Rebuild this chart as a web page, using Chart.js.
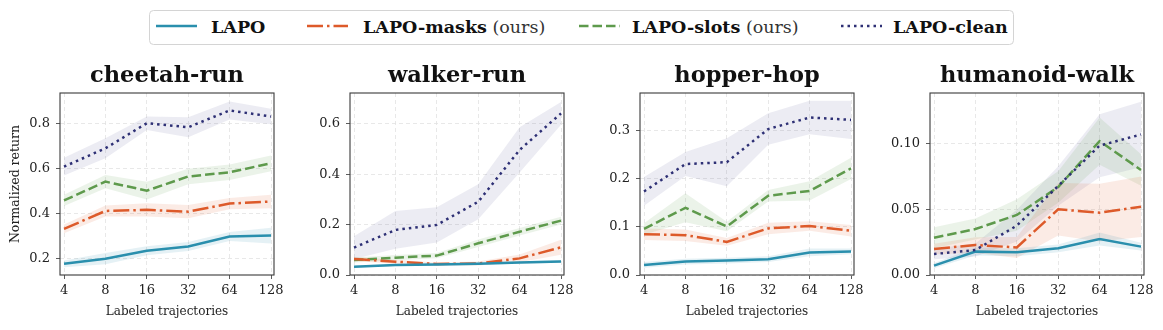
<!DOCTYPE html>
<html>
<head>
<meta charset="utf-8">
<script src="https://cdn.jsdelivr.net/npm/chart.js@4.4.1/dist/chart.umd.min.js"></script>
<style>
  body { margin: 0; background: #fff; }
  #wrap { position: relative; width: 1163px; height: 330px; overflow: hidden; }
  .panel { position: absolute; top: 50px; width: 290px; height: 280px; }
  #legend { position: absolute; left: 0; top: 0; }
</style>
</head>
<body>
<div id="wrap">
  <svg id="legend" width="1163" height="50"></svg>
  <div class="panel" style="left:0px"><canvas id="c0" width="290" height="280"></canvas></div>
  <div class="panel" style="left:290px"><canvas id="c1" width="290" height="280"></canvas></div>
  <div class="panel" style="left:580px"><canvas id="c2" width="290" height="280"></canvas></div>
  <div class="panel" style="left:870px"><canvas id="c3" width="290" height="280"></canvas></div>
</div>
<script>
// x categories (number of labeled trajectories)
const trajLabels = ['4', '8', '16', '32', '64', '128'];
const seriesNames = ['LAPO', 'LAPO-masks', 'LAPO-slots', 'LAPO-clean'];

// cheetah-run
const cheetahLapo = [0.175, 0.198, 0.233, 0.252, 0.297, 0.301];
const cheetahMasks = [0.331, 0.411, 0.416, 0.408, 0.444, 0.453];
const cheetahSlots = [0.458, 0.542, 0.502, 0.565, 0.584, 0.624];
const cheetahClean = [0.609, 0.691, 0.803, 0.785, 0.860, 0.833];
const cheetahLapoErr = [0.015, 0.025, 0.02, 0.02, 0.02, 0.035];
const cheetahMasksErr = [0.02, 0.025, 0.03, 0.03, 0.025, 0.03];
const cheetahSlotsErr = [0.025, 0.03, 0.04, 0.035, 0.035, 0.035];
const cheetahCleanErr = [0.04, 0.045, 0.03, 0.045, 0.04, 0.035];
const cheetahYTicks = [0.2, 0.4, 0.6, 0.8];

// walker-run
const walkerLapo = [0.033, 0.040, 0.042, 0.045, 0.050, 0.054];
const walkerMasks = [0.064, 0.053, 0.044, 0.046, 0.066, 0.110];
const walkerSlots = [0.060, 0.069, 0.077, 0.126, 0.172, 0.216];
const walkerClean = [0.109, 0.179, 0.199, 0.291, 0.497, 0.642];
const walkerLapoErr = [0.004, 0.004, 0.004, 0.005, 0.005, 0.005];
const walkerMasksErr = [0.008, 0.008, 0.006, 0.008, 0.015, 0.03];
const walkerSlotsErr = [0.01, 0.01, 0.01, 0.015, 0.015, 0.015];
const walkerCleanErr = [0.045, 0.075, 0.07, 0.07, 0.09, 0.045];
const walkerYTicks = [0.0, 0.2, 0.4, 0.6];

// hopper-hop
const hopperLapo = [0.021, 0.028, 0.030, 0.033, 0.047, 0.049];
const hopperMasks = [0.085, 0.083, 0.069, 0.097, 0.102, 0.092];
const hopperSlots = [0.096, 0.140, 0.101, 0.165, 0.175, 0.222];
const hopperClean = [0.174, 0.231, 0.235, 0.304, 0.328, 0.323];
const hopperLapoErr = [0.006, 0.006, 0.006, 0.006, 0.008, 0.006];
const hopperMasksErr = [0.012, 0.012, 0.008, 0.012, 0.01, 0.012];
const hopperSlotsErr = [0.012, 0.03, 0.01, 0.012, 0.02, 0.022];
const hopperCleanErr = [0.03, 0.025, 0.05, 0.033, 0.035, 0.04];
const hopperYTicks = [0.0, 0.1, 0.2, 0.3];

// humanoid-walk
const humanoidLapo = [0.0071, 0.0178, 0.0173, 0.0203, 0.0274, 0.0216];
const humanoidMasks = [0.0198, 0.0228, 0.0210, 0.0500, 0.0475, 0.0520];
const humanoidSlots = [0.0284, 0.0350, 0.0457, 0.0670, 0.1020, 0.0800];
const humanoidClean = [0.0160, 0.0190, 0.0376, 0.0678, 0.0985, 0.1070];
const humanoidLapoErr = [0.002, 0.003, 0.003, 0.003, 0.005, 0.003];
const humanoidMasksErr = [0.004, 0.006, 0.008, 0.02, 0.022, 0.023];
const humanoidSlotsErr = [0.008, 0.008, 0.012, 0.012, 0.018, 0.012];
const humanoidCleanErr = [0.004, 0.005, 0.012, 0.015, 0.024, 0.025];
const humanoidYTicks = [0.00, 0.05, 0.10];

const colors = ['#2a8fad', '#dd5a2a', '#5e9a4c', '#2e3075'];
const bandColors = ['rgba(42,143,173,0.12)', 'rgba(221,90,42,0.12)', 'rgba(94,154,76,0.12)', 'rgba(46,48,117,0.09)'];
const dashes = [[], [16, 4, 2.5, 4], [9.5, 4], [2.5, 4]];
const FONT = "'DejaVu Serif', serif";

const panels = [
    { title: 'cheetah-run', series: [cheetahLapo, cheetahMasks, cheetahSlots, cheetahClean],
      errs: [cheetahLapoErr, cheetahMasksErr, cheetahSlotsErr, cheetahCleanErr],
      yMin: 0.125, yMax: 0.938, yTicks: cheetahYTicks, digits: 1, yTitle: true },
    { title: 'walker-run', series: [walkerLapo, walkerMasks, walkerSlots, walkerClean],
      errs: [walkerLapoErr, walkerMasksErr, walkerSlotsErr, walkerCleanErr],
      yMin: 0, yMax: 0.723, yTicks: walkerYTicks, digits: 1, yTitle: false },
    { title: 'hopper-hop', series: [hopperLapo, hopperMasks, hopperSlots, hopperClean],
      errs: [hopperLapoErr, hopperMasksErr, hopperSlotsErr, hopperCleanErr],
      yMin: 0, yMax: 0.379, yTicks: hopperYTicks, digits: 1, yTitle: false },
    { title: 'humanoid-walk', series: [humanoidLapo, humanoidMasks, humanoidSlots, humanoidClean],
      errs: [humanoidLapoErr, humanoidMasksErr, humanoidSlotsErr, humanoidCleanErr],
      yMin: 0, yMax: 0.1386, yTicks: humanoidYTicks, digits: 2, yTitle: false }
];

// draws the box around the plot area
const framePlugin = {
    id: 'frame',
    afterDraw(chart) {
        const { ctx, chartArea: a } = chart;
        ctx.save();
        ctx.strokeStyle = '#3a3a3a';
        ctx.lineWidth = 1.1;
        ctx.strokeRect(a.left, a.top, a.right - a.left, a.bottom - a.top);
        ctx.restore();
    }
};

function toPoints(values) {
    return values.map((v, i) => ({ x: i, y: v }));
}

function buildDatasets(p) {
    const sets = [];
    p.series.forEach((vals, s) => {
        const err = p.errs[s];
        // band: lower edge then upper edge filled to it
        sets.push({
            data: toPoints(vals.map((v, i) => v - err[i])),
            borderWidth: 0, pointRadius: 0, fill: false, order: 2
        });
        sets.push({
            data: toPoints(vals.map((v, i) => v + err[i])),
            borderWidth: 0, pointRadius: 0, fill: '-1',
            backgroundColor: bandColors[s], order: 2
        });
    });
    p.series.forEach((vals, s) => {
        sets.push({
            label: seriesNames[s],
            data: toPoints(vals),
            borderColor: colors[s],
            borderWidth: 2.5,
            borderDash: dashes[s],
            borderCapStyle: 'butt',
            pointRadius: 0,
            tension: 0,
            fill: false,
            order: s === 3 ? 0 : 1
        });
    });
    return sets;
}

const gridOpts = {
    color: '#e2e2e2',
    lineWidth: 0.8,
    tickColor: '#333',
    tickLength: 4,
    tickBorderDash: []
};

panels.forEach((p, idx) => {
    const ctx = document.getElementById('c' + idx).getContext('2d');
    new Chart(ctx, {
        type: 'line',
        data: { datasets: buildDatasets(p) },
        plugins: [framePlugin],
        options: {
            responsive: false,
            animation: false,
            layout: { padding: { left: 0, right: 16, top: 0, bottom: 0 } },
            plugins: {
                legend: { display: false },
                tooltip: { enabled: false },
                filler: { drawTime: 'beforeDatasetsDraw' },
                title: {
                    display: true,
                    text: p.title,
                    fullSize: false,
                    color: '#111',
                    font: { family: FONT, size: 22.5, weight: 'bold' },
                    padding: { top: 13, bottom: 3 }
                }
            },
            scales: {
                x: {
                    type: 'linear',
                    min: -0.097,
                    max: 5.072,
                    afterBuildTicks: s => { s.ticks = trajLabels.map((t, i) => ({ value: i })); },
                    afterFit: s => { s.height = 55; },
                    ticks: {
                        callback: v => trajLabels[v],
                        color: '#222',
                        padding: 4,
                        maxRotation: 0,
                        font: { family: FONT, size: 13 }
                    },
                    grid: gridOpts,
                    border: { display: false, dash: [4, 3] },
                    title: {
                        display: true,
                        text: 'Labeled trajectories',
                        color: '#222',
                        font: { family: FONT, size: 12 },
                        padding: { top: 0, bottom: 11 }
                    }
                },
                y: {
                    min: p.yMin,
                    max: p.yMax,
                    afterBuildTicks: s => { s.ticks = p.yTicks.map(v => ({ value: v })); },
                    afterFit: s => { s.width = 60; },
                    ticks: {
                        callback: v => v.toFixed(p.digits),
                        color: '#222',
                        padding: 6,
                        font: { family: FONT, size: 13 }
                    },
                    grid: gridOpts,
                    border: { display: false, dash: [4, 3] },
                    title: {
                        display: p.yTitle,
                        text: 'Normalized return',
                        color: '#222',
                        font: { family: FONT, size: 12.5 },
                        padding: { top: 8, bottom: 0 }
                    }
                }
            }
        }
    });
});

// legend drawn as svg (bold names with a plain "(ours)" suffix)
const legendItems = [
    { name: 'LAPO', suffix: '', lineX: 156, textX: 211 },
    { name: 'LAPO-masks', suffix: ' (ours)', lineX: 307, textX: 363 },
    { name: 'LAPO-slots', suffix: ' (ours)', lineX: 579, textX: 632 },
    { name: 'LAPO-clean', suffix: '', lineX: 841, textX: 893 }
];
const svgNS = 'http://www.w3.org/2000/svg';
const svg = document.getElementById('legend');
const box = document.createElementNS(svgNS, 'rect');
box.setAttribute('x', 149.5); box.setAttribute('y', 10.5);
box.setAttribute('width', 864); box.setAttribute('height', 34);
box.setAttribute('rx', 4); box.setAttribute('fill', '#fff');
box.setAttribute('stroke', '#d4d4d4'); box.setAttribute('stroke-width', 1);
svg.appendChild(box);
legendItems.forEach((item, s) => {
    const ln = document.createElementNS(svgNS, 'line');
    ln.setAttribute('x1', item.lineX); ln.setAttribute('x2', item.lineX + 41);
    ln.setAttribute('y1', 26); ln.setAttribute('y2', 26);
    ln.setAttribute('stroke', colors[s]); ln.setAttribute('stroke-width', 2.5);
    if (dashes[s].length) ln.setAttribute('stroke-dasharray', dashes[s].join(' '));
    svg.appendChild(ln);
    const tx = document.createElementNS(svgNS, 'text');
    tx.setAttribute('x', item.textX); tx.setAttribute('y', 33);
    tx.setAttribute('font-family', 'DejaVu Serif, serif');
    tx.setAttribute('font-size', 17.5); tx.setAttribute('fill', '#111');
    const b = document.createElementNS(svgNS, 'tspan');
    b.setAttribute('font-weight', 'bold'); b.textContent = item.name;
    tx.appendChild(b);
    if (item.suffix) {
        const n = document.createElementNS(svgNS, 'tspan');
        n.setAttribute('fill', '#333'); n.textContent = item.suffix;
        tx.appendChild(n);
    }
    svg.appendChild(tx);
});
</script>
</body>
</html>
